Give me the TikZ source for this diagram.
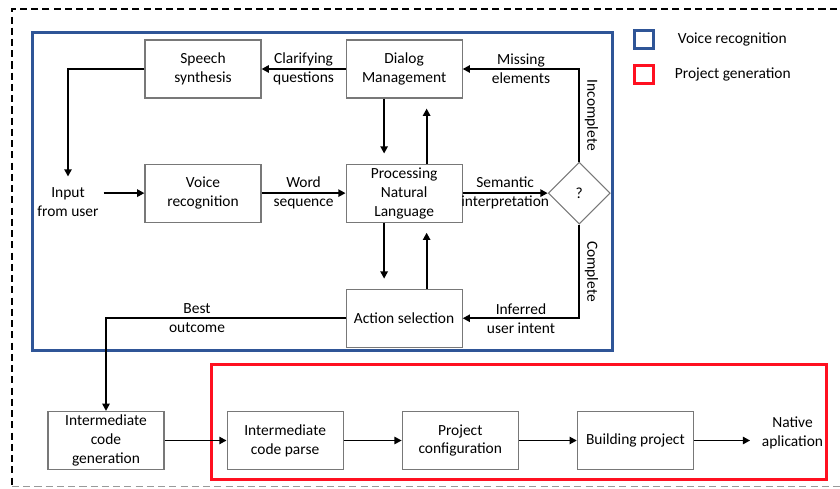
\documentclass[tikz,border=0pt]{standalone}
\usepackage{fontspec}
\setmainfont{Carlito}
\usetikzlibrary{positioning,arrows.meta,calc,shapes.geometric}
\definecolor{VoiceBlue}{RGB}{47,85,151}
\definecolor{ProjectRed}{RGB}{255,16,32}
\definecolor{BoxGrey}{RGB}{120,120,120}
\tikzset{
  flow/.style={-{Triangle[length=1.8mm,width=1.8mm]},line width=1.4pt,draw=black},
  gapflow/.style={flow,shorten >=0.25cm},
  box/.style={draw=BoxGrey,line width=0.8pt,inner sep=1pt,
    minimum width=2.9cm,minimum height=1.45cm,align=center,
    font=\fontsize{11}{13.5}\selectfont},
  plain/.style={align=center,font=\fontsize{11}{13.5}\selectfont},
  lbl/.style={align=center,font=\fontsize{11}{13.5}\selectfont},
  decision/.style={diamond,draw=BoxGrey,line width=0.8pt,aspect=1,
    minimum size=1.55cm,inner sep=0pt,font=\fontsize{11}{13.5}\selectfont},
  voicearea/.style={draw=VoiceBlue,line width=2.2pt},
  projectarea/.style={draw=ProjectRed,line width=2.2pt},
  outerframe/.style={draw=black,line width=0.9pt,dash pattern=on 5pt off 3pt},
  legendsq/.style={minimum size=0.47cm,line width=2.2pt,inner sep=0pt}
}

\begin{document}
\begin{tikzpicture}[node distance=2.1cm]
  \useasboundingbox (0,0) rectangle (21,12.2);
  % outer dashed frame, open on the right
  \draw[outerframe] (21.2,11.975) -- (0.3,11.975) -- (0.3,0.03);
  \draw[outerframe,draw=black!40] (0.3,0.03) -- (21.2,0.03);
  % group frames
  \draw[voicearea] (0.8125,3.4375) rectangle (15.3125,11.3875);
  \draw[projectarea] (5.2875,0.2125) rectangle (20.6625,3.0875);

  % legend
  \node[legendsq,draw=VoiceBlue] (legvoice) at (16.1,11.2125) {};
  \node[legendsq,draw=ProjectRed] (legproject) at (16.1,10.3375) {};
  \node[plain,right=0.45cm of legvoice] (legvoicetxt) {Voice recognition};
  \node[plain,right=0.375cm of legproject] (legprojecttxt) {Project generation};

  % voice recognition loop
  \node[box] (speech) at (5.075,10.475) {Speech\\synthesis};
  \node[box,right=of speech] (dialog) {Dialog\\Management};
  \node[box,below=1.625cm of speech] (voice) {Voice\\recognition};
  \node[box,right=of voice] (nlp) {Processing\\Natural\\Language};
  \node[box,below=1.65cm of nlp] (action) {Action selection};
  \node[decision,right=2.125cm of nlp] (check) {?};
  \node[plain] (input) at (1.7,7.15) {Input\\from user};

  % project generation chain
  \node[box] (gen) at (2.65,1.1875) {Intermediate\\code\\generation};
  \node[box,right=1.55cm of gen] (parse) {Intermediate\\code parse};
  \node[box,right=1.45cm of parse] (config) {Project\\configuration};
  \node[box,right=1.45cm of config] (build) {Building project};
  \node[plain,right=1.575cm of build,yshift=0.2cm] (native) {Native\\aplication};

  % connectors
  \draw[flow] (dialog) -- node[lbl] {Clarifying\\questions} (speech);
  \draw[flow,shorten >=0.15cm] (speech.west) -| (input.north);
  \draw[flow] (input.east |- voice) -- (voice);
  \draw[flow] (voice) -- node[lbl] {Word\\sequence} (nlp);
  \draw[gapflow] ([xshift=-0.5cm]dialog.south) -- ([xshift=-0.5cm]nlp.north);
  \draw[gapflow] ([xshift=0.5625cm]nlp.north) -- ([xshift=0.5625cm]dialog.south);
  \draw[gapflow] ([xshift=-0.5cm]nlp.south) -- ([xshift=-0.5cm]action.north);
  \draw[gapflow] ([xshift=0.5625cm]action.north) -- ([xshift=0.5625cm]nlp.south);
  \draw[flow] (nlp) -- node[lbl] {Semantic\\interpretation} (check);
  \draw[flow] (check.north) |- node[pos=0.25,lbl,rotate=-90,anchor=south] {Incomplete}
    node[pos=0.75,lbl] {Missing\\elements} (dialog.east);
  \draw[flow] (check.south) |- node[pos=0.25,lbl,rotate=-90,anchor=south] {Complete}
    node[pos=0.75,lbl] {Inferred\\user intent} (action.east);
  \draw[flow] (action.west) -| node[pos=0.31,lbl] {Best\\outcome} (gen.north);
  \draw[flow] (gen) -- (parse);
  \draw[flow] (parse) -- (config);
  \draw[flow] (config) -- (build);
  \draw[flow,shorten >=0.17cm] (build) -- (build -| native.west);
\end{tikzpicture}
\end{document}
